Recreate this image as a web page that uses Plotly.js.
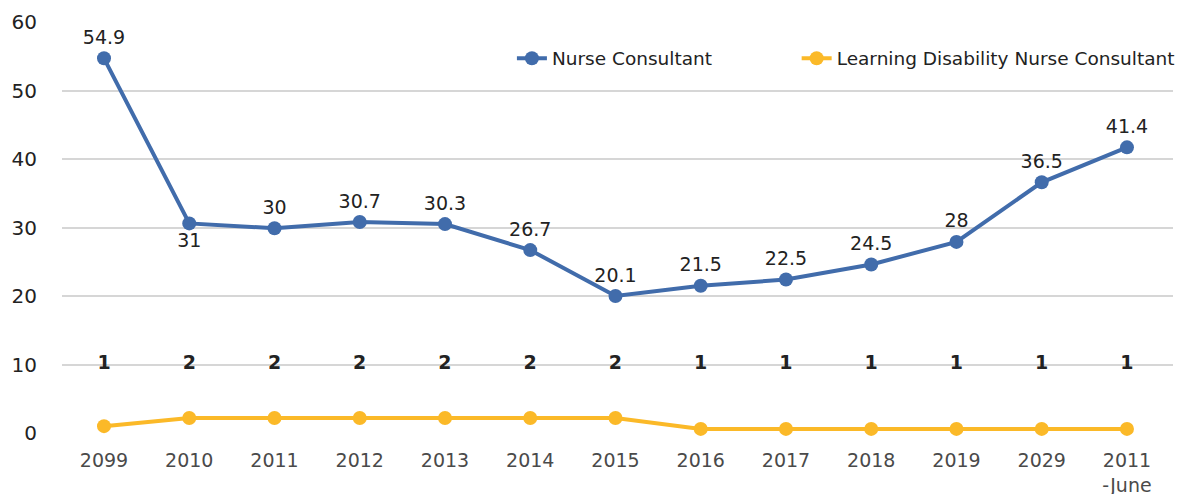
<!DOCTYPE html>
<html>
<head>
<meta charset="utf-8">
<script src="https://cdn.plot.ly/plotly-3.0.1.min.js"></script>
<style>html,body{margin:0;padding:0;background:#fff;}#chart{width:1179px;height:494px;}</style>
</head>
<body>
<div id="chart"></div>
<script>
const tickLabels = ["2099","2010","2011","2012","2013","2014","2015","2016","2017","2018","2019","2029","2011<br>-June"];
const nurseValues = [54.7, 30.6, 29.9, 30.8, 30.5, 26.7, 20.0, 21.5, 22.4, 24.6, 27.9, 36.6, 41.7];
const nurseLabels = ["54.9","31","30","30.7","30.3","26.7","20.1","21.5","22.5","24.5","28","36.5","41.4"];
const ldValues = [1, 2.2, 2.2, 2.2, 2.2, 2.2, 2.2, 0.6, 0.6, 0.6, 0.6, 0.6, 0.6];
const ldLabels = ["1","2","2","2","2","2","2","1","1","1","1","1","1"];
const ldLabelRow = 10;

const xIdx = tickLabels.map((_, i) => i);
const blue = "#416CAB";
const yellow = "#FBB928";
const FONT = "DejaVu Sans, sans-serif";
const labelFont = {family: FONT, size: 19, color: "#222222"};

const traces = [
  {
    x: xIdx, y: nurseValues, name: "Nurse Consultant",
    type: "scatter", mode: "lines+markers+text",
    text: nurseLabels,
    textposition: nurseLabels.map((_, i) => i === 1 ? "bottom center" : "top center"),
    textfont: labelFont,
    line: {color: blue, width: 4},
    marker: {color: blue, size: 14},
    cliponaxis: false,
    legend: "legend"
  },
  {
    x: xIdx, y: ldValues, name: "Learning Disability Nurse Consultant",
    type: "scatter", mode: "lines+markers",
    line: {color: yellow, width: 4},
    marker: {color: yellow, size: 14},
    cliponaxis: false,
    legend: "legend2"
  },
  {
    x: xIdx, y: xIdx.map(() => ldLabelRow), type: "scatter", mode: "text",
    text: ldLabels, textposition: "middle center",
    textfont: {family: FONT, size: 19, color: "#222222", weight: "bold"},
    showlegend: false, hoverinfo: "skip", cliponaxis: false
  }
];

const legendFont = {family: FONT, size: 18.5, color: "#222"};
const layout = {
  width: 1179, height: 494,
  margin: {l: 62, r: 6, t: 22, b: 61, autoexpand: false},
  paper_bgcolor: "#ffffff", plot_bgcolor: "#ffffff",
  font: {family: FONT, color: "#333"},
  xaxis: {
    range: [-0.4927, 12.54],
    tickmode: "array", tickvals: xIdx, ticktext: tickLabels,
    showgrid: false, zeroline: false, showline: false,
    ticks: "outside", ticklen: 10, tickcolor: "rgba(0,0,0,0)",
    tickfont: {family: FONT, size: 19, color: "#4a4a4a"}
  },
  yaxis: {
    range: [0, 60], dtick: 10,
    showgrid: true, gridcolor: "#D6D6D6", gridwidth: 2,
    zeroline: false, showline: false,
    ticks: "outside", ticklen: 20, tickcolor: "rgba(0,0,0,0)",
    tickfont: {family: FONT, size: 20, color: "#222222"}
  },
  legend: {
    orientation: "h", xref: "container", x: 0.4342, xanchor: "left", y: 0.957, yanchor: "top",
    font: legendFont, bgcolor: "rgba(0,0,0,0)"
  },
  legend2: {
    orientation: "h", xref: "container", x: 0.6757, xanchor: "left", y: 0.957, yanchor: "top",
    font: legendFont, bgcolor: "rgba(0,0,0,0)"
  },
  showlegend: true
};

Plotly.newPlot("chart", traces, layout, {displayModeBar: false, staticPlot: true});
</script>
</body>
</html>
